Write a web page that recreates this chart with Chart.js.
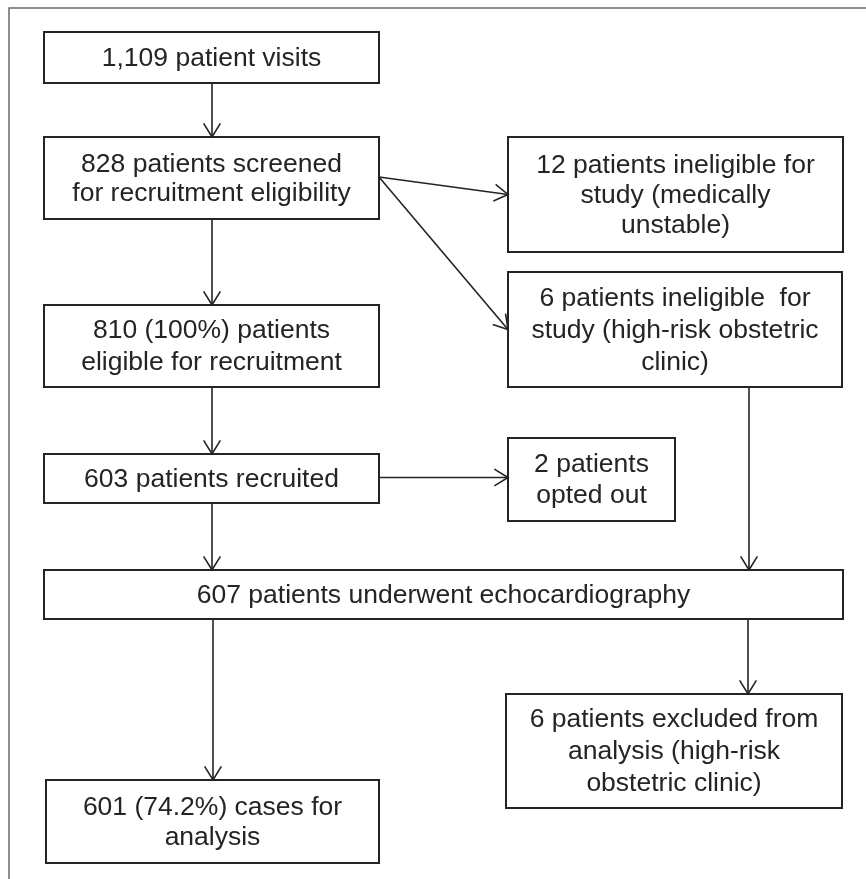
<!DOCTYPE html>
<html>
<head>
<meta charset="utf-8">
<script src="https://cdn.jsdelivr.net/npm/chart.js@4.4.0/dist/chart.umd.min.js"></script>
<style>
  body { margin: 0; background: #fff; }
  #wrap { width: 866px; height: 879px; }
</style>
</head>
<body>
<div id="wrap"><canvas id="flow" width="866" height="879"></canvas></div>
<script>
// flow chart contents: one entry per box
var nodeLabels = [
    ["1,109 patient visits"],
    ["828 patients screened", "for recruitment eligibility"],
    ["12 patients ineligible for", "study (medically", "unstable)"],
    ["6 patients ineligible  for", "study (high-risk obstetric", "clinic)"],
    ["810 (100%) patients", "eligible for recruitment"],
    ["603 patients recruited"],
    ["2 patients", "opted out"],
    ["607 patients underwent echocardiography"],
    ["6 patients excluded from", "analysis (high-risk", "obstetric clinic)"],
    ["601 (74.2%) cases for", "analysis"]
];
// which box leads to which
var linkFrom = [0, 1, 1, 1, 4, 5, 5, 3, 7, 7];
var linkTo   = [1, 2, 3, 4, 5, 6, 7, 7, 8, 9];

// layout (chart units, y grows downward)
var boxLeft   = [44, 44, 508, 508, 44, 44, 508, 44, 506, 46];
var boxRight  = [379, 379, 843, 842, 379, 379, 675, 843, 842, 379];
var boxTop    = [32, 137, 137, 272, 305, 454, 438, 570, 694, 780];
var boxBottom = [83, 219, 252, 387, 387, 503, 521, 619, 808, 863];
var lineGap   = [30, 29, 30, 32, 32, 30, 31, 30, 32, 30];
// x used by vertical links, null = side link
var linkX = [212, null, null, 212, 212, null, 212, 749, 748, 213];

var plotStyle = {
    ink: "#242424",
    frame: "#6a6a6a",
    font: "26.5px 'Liberation Sans', Arial, sans-serif"
};

function arrowHead(ctx, x, y, angle) {
    var len = 16, spread = 0.55;
    ctx.beginPath();
    ctx.moveTo(x - len * Math.cos(angle - spread), y - len * Math.sin(angle - spread));
    ctx.lineTo(x, y);
    ctx.lineTo(x - len * Math.cos(angle + spread), y - len * Math.sin(angle + spread));
    ctx.stroke();
}

var flowPlugin = {
    id: 'flowBoxes',
    afterDatasetsDraw: function(chart) {
        var ctx = chart.ctx;
        var sx = chart.scales.x, sy = chart.scales.y;
        var px = function(v) { return sx.getPixelForValue(v); };
        var py = function(v) { return sy.getPixelForValue(v); };
        ctx.save();

        // outer frame, cut off at right and bottom
        ctx.strokeStyle = plotStyle.frame;
        ctx.lineWidth = 1.5;
        ctx.strokeRect(px(9), py(8), px(900) - px(9), py(900) - py(8));

        // boxes + text
        ctx.strokeStyle = plotStyle.ink;
        ctx.fillStyle = plotStyle.ink;
        ctx.font = plotStyle.font;
        ctx.textAlign = 'center';
        ctx.textBaseline = 'middle';
        for (var i = 0; i < nodeLabels.length; i++) {
            var l = px(boxLeft[i]), r = px(boxRight[i]);
            var t = py(boxTop[i]), b = py(boxBottom[i]);
            ctx.lineWidth = 2;
            ctx.strokeRect(l, t, r - l, b - t);
            var lines = nodeLabels[i];
            var cx = (l + r) / 2, cy = (t + b) / 2 + 1;
            for (var k = 0; k < lines.length; k++) {
                ctx.fillText(lines[k], cx, cy + (k - (lines.length - 1) / 2) * lineGap[i]);
            }
        }

        // links
        ctx.lineWidth = 1.6;
        for (var j = 0; j < linkFrom.length; j++) {
            var a = linkFrom[j], c = linkTo[j];
            var x0, y0, x1, y1;
            if (linkX[j] !== null) {
                x0 = x1 = px(linkX[j]);
                y0 = py(boxBottom[a]);
                y1 = py(boxTop[c]);
            } else {
                x0 = px(boxRight[a]);
                y0 = py((boxTop[a] + boxBottom[a]) / 2 - 1);
                x1 = px(boxLeft[c]);
                y1 = py((boxTop[c] + boxBottom[c]) / 2);
                if (a === 5) y1 = y0;
            }
            ctx.beginPath();
            ctx.moveTo(x0, y0);
            ctx.lineTo(x1, y1);
            ctx.stroke();
            arrowHead(ctx, x1, y1, Math.atan2(y1 - y0, x1 - x0));
        }
        ctx.restore();
    }
};

new Chart(document.getElementById('flow'), {
    type: 'scatter',
    data: { datasets: [{ data: [], pointRadius: 0 }] },
    options: {
        responsive: false,
        animation: false,
        layout: { padding: 0 },
        plugins: { legend: { display: false }, tooltip: { enabled: false } },
        scales: {
            x: { type: 'linear', min: 0, max: 866, display: false },
            y: { type: 'linear', min: 0, max: 879, reverse: true, display: false }
        }
    },
    plugins: [flowPlugin]
});
</script>
</body>
</html>
